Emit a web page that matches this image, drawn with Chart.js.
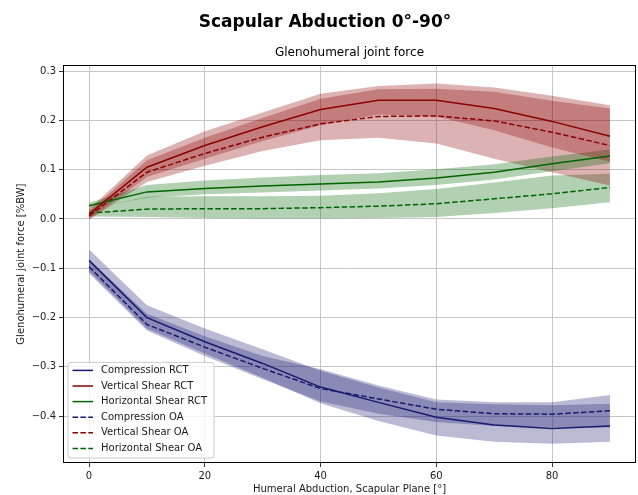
<!DOCTYPE html>
<html>
<head>
<meta charset="utf-8">
<script src="https://cdn.jsdelivr.net/npm/chart.js@4.4.0/dist/chart.umd.min.js"></script>
<style>
    html, body { margin: 0; padding: 0; background: #fff; }
    #chart { display: block; }
</style>
</head>
<body>
<canvas id="chart" width="638" height="495"></canvas>
<script>
// Humeral abduction angles (deg) and axis ticks
const angles = [0, 10, 20, 30, 40, 50, 60, 70, 80, 90];
const xTicks = [0, 20, 40, 60, 80];
const yTicks = [-0.4, -0.3, -0.2, -0.1, 0.0, 0.1, 0.2, 0.3];

// Mean joint force [%BW]
const compressionRCT = [-0.084, -0.200, -0.249, -0.293, -0.341, -0.372, -0.402, -0.418, -0.425, -0.420];
const verticalShearRCT = [0.010, 0.105, 0.149, 0.187, 0.222, 0.241, 0.241, 0.224, 0.198, 0.168];
const horizontalShearRCT = [0.027, 0.055, 0.062, 0.067, 0.071, 0.075, 0.083, 0.095, 0.112, 0.128];
const compressionOA = [-0.097, -0.214, -0.260, -0.303, -0.344, -0.365, -0.386, -0.395, -0.396, -0.389];
const verticalShearOA = [0.006, 0.095, 0.133, 0.166, 0.193, 0.208, 0.209, 0.199, 0.176, 0.149];
const horizontalShearOA = [0.012, 0.020, 0.021, 0.021, 0.023, 0.026, 0.031, 0.041, 0.051, 0.064];

// Spread bands (upper / lower)
const compressionRCTHigh = [-0.062, -0.175, -0.222, -0.264, -0.308, -0.342, -0.372, -0.376, -0.378, -0.375];
const compressionRCTLow = [-0.106, -0.222, -0.273, -0.322, -0.374, -0.410, -0.439, -0.452, -0.456, -0.452];
const compressionOAHigh = [-0.082, -0.192, -0.238, -0.278, -0.305, -0.338, -0.366, -0.372, -0.372, -0.357];
const compressionOALow = [-0.110, -0.226, -0.278, -0.325, -0.370, -0.395, -0.412, -0.420, -0.422, -0.423];
const verticalShearRCTHigh = [0.020, 0.129, 0.178, 0.216, 0.254, 0.270, 0.275, 0.267, 0.250, 0.231];
const verticalShearRCTLow = [0.000, 0.085, 0.122, 0.158, 0.190, 0.212, 0.208, 0.180, 0.145, 0.116];
const verticalShearOAHigh = [0.015, 0.119, 0.165, 0.205, 0.244, 0.263, 0.264, 0.258, 0.240, 0.224];
const verticalShearOALow = [-0.002, 0.075, 0.108, 0.138, 0.160, 0.165, 0.153, 0.122, 0.095, 0.068];
const horizontalShearRCTHigh = [0.033, 0.069, 0.078, 0.084, 0.089, 0.093, 0.101, 0.111, 0.127, 0.141];
const horizontalShearRCTLow = [0.021, 0.043, 0.050, 0.054, 0.058, 0.062, 0.069, 0.080, 0.097, 0.113];
const horizontalShearOAHigh = [0.020, 0.045, 0.046, 0.046, 0.047, 0.052, 0.061, 0.074, 0.088, 0.092];
const horizontalShearOALow = [0.005, 0.004, 0.002, 0.001, 0.001, 0.002, 0.004, 0.012, 0.022, 0.034];

const BLUE = '#191970';
const DARKRED = '#8b0000';
const DARKGREEN = '#006400';

Chart.defaults.font.family = '"DejaVu Sans", sans-serif';
Chart.defaults.color = '#1a1a1a';

function toPoints(values) {
    return angles.map((a, i) => ({ x: a, y: values[i] }));
}

// two datasets, the upper one filled down to the lower one
function bandDatasets(name, upper, lower, fillColor) {
    return [
        { label: name + ' upper', data: toPoints(upper), isBand: true, borderColor: 'transparent', borderWidth: 0,
          pointRadius: 0, fill: '+1', backgroundColor: fillColor, order: 2 },
        { label: name + ' lower', data: toPoints(lower), isBand: true, borderColor: 'transparent', borderWidth: 0,
          pointRadius: 0, fill: false, order: 2 }
    ];
}

function lineDataset(name, values, color, dashed) {
    return {
        label: name, data: toPoints(values), borderColor: color, backgroundColor: color,
        borderWidth: 1.5, borderDash: dashed ? [5.5, 2.4] : [], pointRadius: 0, fill: false, order: 1
    };
}

const datasets = [
    ...bandDatasets('Compression RCT', compressionRCTHigh, compressionRCTLow, 'rgba(25,25,112,0.3)'),
    ...bandDatasets('Vertical Shear RCT', verticalShearRCTHigh, verticalShearRCTLow, 'rgba(139,0,0,0.3)'),
    ...bandDatasets('Horizontal Shear RCT', horizontalShearRCTHigh, horizontalShearRCTLow, 'rgba(0,100,0,0.3)'),
    ...bandDatasets('Compression OA', compressionOAHigh, compressionOALow, 'rgba(25,25,112,0.3)'),
    ...bandDatasets('Vertical Shear OA', verticalShearOAHigh, verticalShearOALow, 'rgba(139,0,0,0.3)'),
    ...bandDatasets('Horizontal Shear OA', horizontalShearOAHigh, horizontalShearOALow, 'rgba(0,100,0,0.3)'),
    lineDataset('Compression RCT', compressionRCT, BLUE, false),
    lineDataset('Vertical Shear RCT', verticalShearRCT, DARKRED, false),
    lineDataset('Horizontal Shear RCT', horizontalShearRCT, DARKGREEN, false),
    lineDataset('Compression OA', compressionOA, BLUE, true),
    lineDataset('Vertical Shear OA', verticalShearOA, DARKRED, true),
    lineDataset('Horizontal Shear OA', horizontalShearOA, DARKGREEN, true)
];

// box around the plot plus a legend in the lower left corner
const frameAndLegend = {
    id: 'frameAndLegend',
    afterDatasetsDraw(chart) {
        const { ctx, chartArea } = chart;
        ctx.save();
        ctx.strokeStyle = '#000';
        ctx.lineWidth = 1;
        ctx.strokeRect(Math.round(chartArea.left) + 0.5, Math.round(chartArea.top) + 0.5,
            Math.round(chartArea.right - chartArea.left) - 1, Math.round(chartArea.bottom - chartArea.top) - 1);

        const items = chart.data.datasets.filter(d => !d.isBand);
        const rowHeight = 15.6;
        const boxW = 146;
        const boxH = items.length * rowHeight + 2;
        const left = chartArea.left + 5;
        const top = chartArea.bottom - 5 - boxH;

        ctx.beginPath();
        const r = 3;
        ctx.moveTo(left + r, top);
        ctx.arcTo(left + boxW, top, left + boxW, top + boxH, r);
        ctx.arcTo(left + boxW, top + boxH, left, top + boxH, r);
        ctx.arcTo(left, top + boxH, left, top, r);
        ctx.arcTo(left, top, left + boxW, top, r);
        ctx.closePath();
        ctx.fillStyle = 'rgba(255,255,255,0.8)';
        ctx.fill();
        ctx.strokeStyle = '#cccccc';
        ctx.stroke();

        ctx.font = '10px "DejaVu Sans"';
        ctx.textBaseline = 'middle';
        items.forEach((d, i) => {
            const y = top + 8 + i * rowHeight;
            ctx.beginPath();
            ctx.strokeStyle = d.borderColor;
            ctx.lineWidth = 1.5;
            ctx.setLineDash(d.borderDash);
            ctx.moveTo(left + 4.5, y);
            ctx.lineTo(left + 25, y);
            ctx.stroke();
            ctx.setLineDash([]);
            ctx.fillStyle = '#1a1a1a';
            ctx.fillText(d.label, left + 33, y);
        });
        ctx.restore();
    }
};

const ctx = document.getElementById('chart').getContext('2d');
new Chart(ctx, {
    type: 'line',
    data: { datasets: datasets },
    options: {
        responsive: false,
        animation: false,
        devicePixelRatio: 1,
        layout: { padding: { left: 14, right: 2, top: 0, bottom: 0 } },
        elements: { line: { tension: 0 } },
        plugins: {
            legend: { display: false },
            tooltip: { enabled: false },
            title: {
                display: true,
                text: 'Scapular Abduction 0°-90°',
                color: '#000',
                font: { size: 17, weight: 'bold' },
                padding: { top: 12, bottom: 0 }
            },
            subtitle: {
                display: true,
                fullSize: false,
                text: 'Glenohumeral joint force',
                color: '#000',
                font: { size: 12 },
                padding: { top: 13.6, bottom: 4.8 }
            }
        },
        scales: {
            x: {
                type: 'linear',
                min: -4.5,
                max: 94.5,
                afterBuildTicks: axis => { axis.ticks = xTicks.map(v => ({ value: v })); },
                afterFit: axis => { axis.height = 32; },
                grid: { color: '#c6c6c6', tickColor: '#333', tickLength: 4 },
                border: { display: false },
                ticks: { font: { size: 10 }, padding: 3, maxRotation: 0 },
                title: {
                    display: true,
                    text: 'Humeral Abduction, Scapular Plane [°]',
                    font: { size: 10 },
                    padding: { top: 0, bottom: 0 }
                }
            },
            y: {
                type: 'linear',
                min: -0.495,
                max: 0.312,
                afterBuildTicks: axis => { axis.ticks = yTicks.map(v => ({ value: v })); },
                afterFit: axis => { axis.width = 49; },
                grid: { color: '#c6c6c6', tickColor: '#333', tickLength: 4 },
                border: { display: false },
                ticks: {
                    font: { size: 10 },
                    padding: 3,
                    callback: v => v.toFixed(1).replace('-', '\u2212')
                },
                title: {
                    display: true,
                    text: 'Glenohumeral joint force [%BW]',
                    font: { size: 10 },
                    padding: { top: 1, bottom: 0 }
                }
            }
        }
    },
    plugins: [frameAndLegend]
});
</script>
</body>
</html>
